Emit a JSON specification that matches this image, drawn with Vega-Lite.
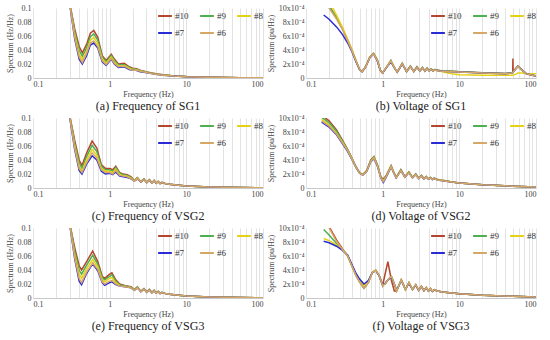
{
"$schema":"https://vega.github.io/schema/vega-lite/v6.json",
"background":"white",
"padding":{"left":5,"top":4,"right":3,"bottom":2},
"datasets":{
"a":[
{"f":0.27,"#10":0.14,"#9":0.138,"#8":0.136,"#7":0.134,"#6":0.135},
{"f":0.31,"#10":0.1,"#9":0.099,"#8":0.098,"#7":0.096,"#6":0.097},
{"f":0.35,"#10":0.07,"#9":0.066,"#8":0.062,"#7":0.056,"#6":0.058},
{"f":0.4,"#10":0.045,"#9":0.04,"#8":0.034,"#7":0.027,"#6":0.03},
{"f":0.44,"#10":0.036,"#9":0.031,"#8":0.026,"#7":0.02,"#6":0.022},
{"f":0.5,"#10":0.048,"#9":0.043,"#8":0.038,"#7":0.032,"#6":0.035},
{"f":0.56,"#10":0.064,"#9":0.059,"#8":0.054,"#7":0.047,"#6":0.05},
{"f":0.62,"#10":0.068,"#9":0.063,"#8":0.058,"#7":0.05,"#6":0.053},
{"f":0.7,"#10":0.058,"#9":0.054,"#8":0.049,"#7":0.043,"#6":0.045},
{"f":0.8,"#10":0.032,"#9":0.03,"#8":0.027,"#7":0.023,"#6":0.025},
{"f":0.9,"#10":0.025,"#9":0.023,"#8":0.021,"#7":0.018,"#6":0.019},
{"f":1.05,"#10":0.034,"#9":0.032,"#8":0.03,"#7":0.027,"#6":0.028},
{"f":1.15,"#10":0.027,"#9":0.025,"#8":0.023,"#7":0.02,"#6":0.021},
{"f":1.3,"#10":0.02,"#9":0.019,"#8":0.017,"#7":0.015,"#6":0.016},
{"f":1.55,"#10":0.021,"#9":0.019,"#8":0.018,"#7":0.016,"#6":0.017},
{"f":1.8,"#10":0.016,"#9":0.015,"#8":0.014,"#7":0.012,"#6":0.013},
{"f":2.0,"#10":0.014,"#9":0.013,"#8":0.012,"#7":0.011,"#6":0.011},
{"f":2.2,"#10":0.0135,"#9":0.013,"#8":0.012,"#7":0.011,"#6":0.0115},
{"f":2.5,"#10":0.011,"#9":0.0105,"#8":0.01,"#7":0.009,"#6":0.0095},
{"f":2.8,"#10":0.0098,"#9":0.0094,"#8":0.009,"#7":0.0083,"#6":0.0086},
{"f":3.2,"#10":0.0082,"#9":0.0079,"#8":0.0076,"#7":0.007,"#6":0.0072},
{"f":4,"#10":0.006,"#9":0.0058,"#8":0.0056,"#7":0.0052,"#6":0.0054},
{"f":5,"#10":0.0045,"#9":0.0044,"#8":0.0042,"#7":0.004,"#6":0.0041},
{"f":7,"#10":0.003,"#9":0.003,"#8":0.0029,"#7":0.0028,"#6":0.0028},
{"f":10,"#10":0.002,"#9":0.002,"#8":0.0019,"#7":0.0018,"#6":0.0018},
{"f":20,"#10":0.001,"#9":0.001,"#8":0.001,"#7":0.001,"#6":0.001},
{"f":50,"#10":0.0004,"#9":0.0004,"#8":0.0004,"#7":0.0004,"#6":0.0004},
{"f":100,"#10":0.0002,"#9":0.0002,"#8":0.0002,"#7":0.0002,"#6":0.0002}
],
"b":[
{"f":0.17,"#10":11.5,"#9":11.5,"#8":12.5,"#7":9.0,"#6":11.0},
{"f":0.2,"#10":10.3,"#9":10.3,"#8":11.0,"#7":8.4,"#6":10.0},
{"f":0.25,"#10":8.6,"#9":8.6,"#8":9.0,"#7":7.3,"#6":8.4},
{"f":0.3,"#10":7.0,"#9":7.0,"#8":7.2,"#7":6.2,"#6":6.9},
{"f":0.35,"#10":5.4,"#9":5.4,"#8":5.5,"#7":5.0,"#6":5.3},
{"f":0.4,"#10":3.9,"#9":3.9,"#8":4.0,"#7":3.7,"#6":3.8},
{"f":0.45,"#10":2.4,"#9":2.4,"#8":2.5,"#7":2.3,"#6":2.4},
{"f":0.5,"#10":1.2,"#9":1.2,"#8":1.2,"#7":1.2,"#6":1.2},
{"f":0.54,"#10":0.9,"#9":0.9,"#8":0.9,"#7":0.9,"#6":0.9},
{"f":0.6,"#10":1.6,"#9":1.6,"#8":1.6,"#7":1.6,"#6":1.6},
{"f":0.68,"#10":3.0,"#9":3.0,"#8":2.95,"#7":2.9,"#6":2.95},
{"f":0.76,"#10":3.5,"#9":3.5,"#8":3.4,"#7":3.4,"#6":3.45},
{"f":0.85,"#10":2.6,"#9":2.6,"#8":2.55,"#7":2.5,"#6":2.55},
{"f":0.93,"#10":1.1,"#9":1.1,"#8":1.1,"#7":1.1,"#6":1.1},
{"f":1.0,"#10":0.7,"#9":0.7,"#8":0.7,"#7":0.7,"#6":0.7},
{"f":1.1,"#10":1.4,"#9":1.4,"#8":1.4,"#7":1.35,"#6":1.4},
{"f":1.28,"#10":2.5,"#9":2.5,"#8":2.4,"#7":2.3,"#6":2.4},
{"f":1.42,"#10":1.5,"#9":1.5,"#8":1.5,"#7":1.45,"#6":1.5},
{"f":1.55,"#10":0.85,"#9":0.85,"#8":0.85,"#7":0.85,"#6":0.85},
{"f":1.8,"#10":2.1,"#9":2.1,"#8":2.05,"#7":2.0,"#6":2.05},
{"f":2.05,"#10":0.9,"#9":0.9,"#8":0.9,"#7":0.9,"#6":0.9},
{"f":2.3,"#10":1.7,"#9":1.7,"#8":1.65,"#7":1.65,"#6":1.65},
{"f":2.55,"#10":0.95,"#9":0.95,"#8":0.95,"#7":0.95,"#6":0.95},
{"f":2.8,"#10":1.6,"#9":1.6,"#8":1.55,"#7":1.55,"#6":1.55},
{"f":3.05,"#10":1.0,"#9":1.0,"#8":1.0,"#7":1.0,"#6":1.0},
{"f":3.3,"#10":1.5,"#9":1.5,"#8":1.45,"#7":1.45,"#6":1.45},
{"f":3.55,"#10":1.0,"#9":1.0,"#8":1.0,"#7":1.0,"#6":1.0},
{"f":3.8,"#10":1.4,"#9":1.4,"#8":1.35,"#7":1.35,"#6":1.35},
{"f":4.05,"#10":1.05,"#9":1.05,"#8":1.0,"#7":1.0,"#6":1.0},
{"f":4.3,"#10":1.3,"#9":1.3,"#8":1.25,"#7":1.25,"#6":1.25},
{"f":4.55,"#10":1.05,"#9":1.05,"#8":1.0,"#7":1.0,"#6":1.0},
{"f":4.8,"#10":1.2,"#9":1.2,"#8":1.15,"#7":1.15,"#6":1.15},
{"f":5.3,"#10":1.1,"#9":1.1,"#8":1.05,"#7":1.05,"#6":1.05},
{"f":6,"#10":1.0,"#9":1.0,"#8":0.9,"#7":0.95,"#6":0.95},
{"f":8,"#10":0.95,"#9":0.95,"#8":0.6,"#7":0.9,"#6":0.9},
{"f":10,"#10":0.9,"#9":0.9,"#8":0.45,"#7":0.85,"#6":0.85},
{"f":20,"#10":0.75,"#9":0.75,"#8":0.4,"#7":0.72,"#6":0.72},
{"f":40,"#10":0.65,"#9":0.65,"#8":0.38,"#7":0.62,"#6":0.62},
{"f":48,"#10":0.75,"#9":0.75,"#8":0.4,"#7":0.72,"#6":0.72},
{"f":49.7,"#10":0.8,"#9":0.8,"#8":0.4,"#7":0.78,"#6":0.78},
{"f":50,"#10":2.8,"#9":0.85,"#8":0.4,"#7":0.8,"#6":0.8},
{"f":50.3,"#10":0.9,"#9":0.9,"#8":0.42,"#7":0.85,"#6":0.85},
{"f":55,"#10":1.4,"#9":1.4,"#8":0.55,"#7":1.35,"#6":1.35},
{"f":58,"#10":1.7,"#9":1.7,"#8":0.7,"#7":1.65,"#6":1.65},
{"f":65,"#10":1.2,"#9":1.2,"#8":0.7,"#7":1.15,"#6":1.15},
{"f":75,"#10":0.6,"#9":0.6,"#8":0.65,"#7":0.6,"#6":0.6},
{"f":100,"#10":0.3,"#9":0.3,"#8":0.6,"#7":0.3,"#6":0.3}
],
"c":[
{"f":0.27,"#10":0.14,"#9":0.138,"#8":0.136,"#7":0.134,"#6":0.135},
{"f":0.306,"#10":0.1,"#9":0.099,"#8":0.098,"#7":0.096,"#6":0.097},
{"f":0.35,"#10":0.068,"#9":0.064,"#8":0.06,"#7":0.055,"#6":0.057},
{"f":0.4,"#10":0.04,"#9":0.036,"#8":0.031,"#7":0.025,"#6":0.028},
{"f":0.435,"#10":0.032,"#9":0.028,"#8":0.024,"#7":0.02,"#6":0.022},
{"f":0.5,"#10":0.05,"#9":0.045,"#8":0.04,"#7":0.034,"#6":0.036},
{"f":0.59,"#10":0.067,"#9":0.061,"#8":0.055,"#7":0.046,"#6":0.05},
{"f":0.68,"#10":0.057,"#9":0.052,"#8":0.047,"#7":0.04,"#6":0.043},
{"f":0.78,"#10":0.033,"#9":0.031,"#8":0.028,"#7":0.024,"#6":0.026},
{"f":0.88,"#10":0.028,"#9":0.026,"#8":0.024,"#7":0.02,"#6":0.022},
{"f":1.0,"#10":0.028,"#9":0.026,"#8":0.024,"#7":0.021,"#6":0.022},
{"f":1.1,"#10":0.026,"#9":0.024,"#8":0.022,"#7":0.019,"#6":0.02},
{"f":1.2,"#10":0.031,"#9":0.029,"#8":0.027,"#7":0.023,"#6":0.025},
{"f":1.35,"#10":0.022,"#9":0.021,"#8":0.019,"#7":0.017,"#6":0.018},
{"f":1.5,"#10":0.02,"#9":0.019,"#8":0.018,"#7":0.016,"#6":0.017},
{"f":1.7,"#10":0.019,"#9":0.018,"#8":0.017,"#7":0.015,"#6":0.016},
{"f":1.9,"#10":0.016,"#9":0.015,"#8":0.014,"#7":0.013,"#6":0.013},
{"f":2.1,"#10":0.011,"#9":0.011,"#8":0.0105,"#7":0.01,"#6":0.01},
{"f":2.3,"#10":0.015,"#9":0.0145,"#8":0.014,"#7":0.013,"#6":0.0135},
{"f":2.55,"#10":0.009,"#9":0.009,"#8":0.0088,"#7":0.0085,"#6":0.0086},
{"f":2.8,"#10":0.013,"#9":0.0127,"#8":0.0124,"#7":0.012,"#6":0.0122},
{"f":3.05,"#10":0.008,"#9":0.008,"#8":0.0078,"#7":0.0076,"#6":0.0077},
{"f":3.3,"#10":0.012,"#9":0.0118,"#8":0.0115,"#7":0.0112,"#6":0.0113},
{"f":3.55,"#10":0.0075,"#9":0.0075,"#8":0.0074,"#7":0.0072,"#6":0.0073},
{"f":3.8,"#10":0.011,"#9":0.0108,"#8":0.0106,"#7":0.0103,"#6":0.0104},
{"f":4.05,"#10":0.007,"#9":0.007,"#8":0.0069,"#7":0.0068,"#6":0.0068},
{"f":4.3,"#10":0.0095,"#9":0.0094,"#8":0.0092,"#7":0.009,"#6":0.0091},
{"f":4.55,"#10":0.0065,"#9":0.0065,"#8":0.0064,"#7":0.0063,"#6":0.0063},
{"f":4.8,"#10":0.008,"#9":0.008,"#8":0.0078,"#7":0.0077,"#6":0.0077},
{"f":5.3,"#10":0.0065,"#9":0.0065,"#8":0.0064,"#7":0.0063,"#6":0.0063},
{"f":6,"#10":0.0055,"#9":0.0055,"#8":0.0054,"#7":0.0053,"#6":0.0053},
{"f":8,"#10":0.004,"#9":0.004,"#8":0.004,"#7":0.0039,"#6":0.0039},
{"f":10,"#10":0.003,"#9":0.003,"#8":0.003,"#7":0.0029,"#6":0.0029},
{"f":20,"#10":0.0015,"#9":0.0015,"#8":0.0015,"#7":0.0015,"#6":0.0015},
{"f":50,"#10":0.0006,"#9":0.0006,"#8":0.0006,"#7":0.0006,"#6":0.0006},
{"f":100,"#10":0.0002,"#9":0.0002,"#8":0.0002,"#7":0.0002,"#6":0.0002}
],
"d":[
{"f":0.16,"#10":10.4,"#9":10.1,"#8":9.8,"#7":9.4,"#6":9.6},
{"f":0.2,"#10":9.6,"#9":9.3,"#8":9.0,"#7":8.7,"#6":8.85},
{"f":0.25,"#10":8.3,"#9":8.1,"#8":7.8,"#7":7.6,"#6":7.7},
{"f":0.3,"#10":6.8,"#9":6.7,"#8":6.5,"#7":6.3,"#6":6.4},
{"f":0.35,"#10":5.5,"#9":5.45,"#8":5.35,"#7":5.2,"#6":5.3},
{"f":0.4,"#10":4.2,"#9":4.15,"#8":4.1,"#7":4.0,"#6":4.05},
{"f":0.45,"#10":3.0,"#9":3.0,"#8":2.95,"#7":2.9,"#6":2.9},
{"f":0.5,"#10":2.2,"#9":2.2,"#8":2.15,"#7":2.1,"#6":2.1},
{"f":0.55,"#10":1.9,"#9":1.9,"#8":1.9,"#7":1.85,"#6":1.85},
{"f":0.62,"#10":2.5,"#9":2.5,"#8":2.45,"#7":2.4,"#6":2.4},
{"f":0.7,"#10":4.0,"#9":3.95,"#8":3.85,"#7":3.75,"#6":3.8},
{"f":0.77,"#10":4.5,"#9":4.45,"#8":4.35,"#7":4.2,"#6":4.3},
{"f":0.85,"#10":3.4,"#9":3.35,"#8":3.3,"#7":3.2,"#6":3.25},
{"f":0.95,"#10":1.5,"#9":1.5,"#8":1.45,"#7":1.4,"#6":1.4},
{"f":1.02,"#10":1.3,"#9":1.1,"#8":1.0,"#7":0.8,"#6":0.9},
{"f":1.1,"#10":1.7,"#9":1.6,"#8":1.55,"#7":1.45,"#6":1.5},
{"f":1.29,"#10":3.2,"#9":3.15,"#8":3.1,"#7":3.0,"#6":3.05},
{"f":1.4,"#10":2.2,"#9":2.2,"#8":2.15,"#7":2.1,"#6":2.1},
{"f":1.5,"#10":1.5,"#9":1.5,"#8":1.5,"#7":1.45,"#6":1.45},
{"f":1.73,"#10":2.6,"#9":2.6,"#8":2.55,"#7":2.5,"#6":2.5},
{"f":1.95,"#10":1.6,"#9":1.6,"#8":1.6,"#7":1.55,"#6":1.55},
{"f":2.2,"#10":2.3,"#9":2.3,"#8":2.25,"#7":2.2,"#6":2.2},
{"f":2.45,"#10":1.5,"#9":1.5,"#8":1.5,"#7":1.45,"#6":1.45},
{"f":2.7,"#10":2.0,"#9":2.0,"#8":1.95,"#7":1.9,"#6":1.9},
{"f":2.95,"#10":1.4,"#9":1.4,"#8":1.4,"#7":1.35,"#6":1.35},
{"f":3.2,"#10":1.8,"#9":1.8,"#8":1.75,"#7":1.7,"#6":1.7},
{"f":3.45,"#10":1.35,"#9":1.35,"#8":1.35,"#7":1.3,"#6":1.3},
{"f":3.7,"#10":1.65,"#9":1.65,"#8":1.6,"#7":1.6,"#6":1.6},
{"f":3.95,"#10":1.3,"#9":1.3,"#8":1.3,"#7":1.25,"#6":1.25},
{"f":4.2,"#10":1.5,"#9":1.5,"#8":1.45,"#7":1.45,"#6":1.45},
{"f":4.45,"#10":1.25,"#9":1.25,"#8":1.25,"#7":1.2,"#6":1.2},
{"f":4.7,"#10":1.4,"#9":1.4,"#8":1.35,"#7":1.35,"#6":1.35},
{"f":5.2,"#10":1.2,"#9":1.2,"#8":1.2,"#7":1.15,"#6":1.15},
{"f":6,"#10":1.1,"#9":1.1,"#8":1.1,"#7":1.05,"#6":1.05},
{"f":8,"#10":0.85,"#9":0.85,"#8":0.85,"#7":0.85,"#6":0.85},
{"f":10,"#10":0.7,"#9":0.7,"#8":0.7,"#7":0.7,"#6":0.7},
{"f":20,"#10":0.45,"#9":0.45,"#8":0.45,"#7":0.45,"#6":0.45},
{"f":50,"#10":0.25,"#9":0.25,"#8":0.25,"#7":0.25,"#6":0.25},
{"f":100,"#10":0.15,"#9":0.15,"#8":0.15,"#7":0.15,"#6":0.15}
],
"e":[
{"f":0.27,"#10":0.14,"#9":0.138,"#8":0.136,"#7":0.134,"#6":0.135},
{"f":0.31,"#10":0.1,"#9":0.099,"#8":0.098,"#7":0.096,"#6":0.097},
{"f":0.35,"#10":0.072,"#9":0.067,"#8":0.062,"#7":0.056,"#6":0.058},
{"f":0.4,"#10":0.046,"#9":0.04,"#8":0.034,"#7":0.024,"#6":0.028},
{"f":0.43,"#10":0.04,"#9":0.034,"#8":0.028,"#7":0.019,"#6":0.022},
{"f":0.5,"#10":0.052,"#9":0.047,"#8":0.042,"#7":0.035,"#6":0.037},
{"f":0.6,"#10":0.067,"#9":0.061,"#8":0.055,"#7":0.049,"#6":0.05},
{"f":0.7,"#10":0.052,"#9":0.048,"#8":0.044,"#7":0.039,"#6":0.041},
{"f":0.8,"#10":0.031,"#9":0.029,"#8":0.026,"#7":0.022,"#6":0.023},
{"f":0.86,"#10":0.028,"#9":0.026,"#8":0.023,"#7":0.018,"#6":0.02},
{"f":1.0,"#10":0.034,"#9":0.031,"#8":0.028,"#7":0.022,"#6":0.024},
{"f":1.07,"#10":0.036,"#9":0.033,"#8":0.029,"#7":0.023,"#6":0.025},
{"f":1.2,"#10":0.026,"#9":0.024,"#8":0.022,"#7":0.019,"#6":0.02},
{"f":1.35,"#10":0.02,"#9":0.019,"#8":0.018,"#7":0.017,"#6":0.017},
{"f":1.6,"#10":0.0175,"#9":0.017,"#8":0.0165,"#7":0.016,"#6":0.016},
{"f":1.9,"#10":0.016,"#9":0.0155,"#8":0.015,"#7":0.0145,"#6":0.0145},
{"f":2.1,"#10":0.012,"#9":0.012,"#8":0.0115,"#7":0.011,"#6":0.011},
{"f":2.3,"#10":0.016,"#9":0.0155,"#8":0.015,"#7":0.0145,"#6":0.0145},
{"f":2.55,"#10":0.0095,"#9":0.0095,"#8":0.0093,"#7":0.009,"#6":0.009},
{"f":2.8,"#10":0.0135,"#9":0.0132,"#8":0.013,"#7":0.0127,"#6":0.0127},
{"f":3.05,"#10":0.0085,"#9":0.0085,"#8":0.0083,"#7":0.0081,"#6":0.0081},
{"f":3.3,"#10":0.0122,"#9":0.012,"#8":0.0118,"#7":0.0115,"#6":0.0115},
{"f":3.55,"#10":0.0078,"#9":0.0078,"#8":0.0077,"#7":0.0075,"#6":0.0075},
{"f":3.8,"#10":0.011,"#9":0.0108,"#8":0.0106,"#7":0.0104,"#6":0.0104},
{"f":4.05,"#10":0.0072,"#9":0.0072,"#8":0.0071,"#7":0.007,"#6":0.007},
{"f":4.3,"#10":0.0095,"#9":0.0094,"#8":0.0093,"#7":0.0091,"#6":0.0091},
{"f":4.55,"#10":0.0066,"#9":0.0066,"#8":0.0065,"#7":0.0064,"#6":0.0064},
{"f":4.8,"#10":0.008,"#9":0.008,"#8":0.0079,"#7":0.0078,"#6":0.0078},
{"f":5.3,"#10":0.0066,"#9":0.0066,"#8":0.0065,"#7":0.0064,"#6":0.0064},
{"f":6,"#10":0.0055,"#9":0.0055,"#8":0.0054,"#7":0.0053,"#6":0.0053},
{"f":8,"#10":0.004,"#9":0.004,"#8":0.004,"#7":0.0039,"#6":0.0039},
{"f":10,"#10":0.003,"#9":0.003,"#8":0.003,"#7":0.0029,"#6":0.0029},
{"f":20,"#10":0.0015,"#9":0.0015,"#8":0.0015,"#7":0.0015,"#6":0.0015},
{"f":50,"#10":0.0006,"#9":0.0006,"#8":0.0006,"#7":0.0006,"#6":0.0006},
{"f":100,"#10":0.0002,"#9":0.0002,"#8":0.0002,"#7":0.0002,"#6":0.0002}
],
"f":[
{"f":0.17,"#10":11.2,"#9":9.8,"#8":8.5,"#7":8.1,"#6":11.0},
{"f":0.2,"#10":10.2,"#9":9.0,"#8":8.2,"#7":7.9,"#6":10.0},
{"f":0.25,"#10":8.3,"#9":7.8,"#8":7.6,"#7":7.4,"#6":8.1},
{"f":0.3,"#10":7.0,"#9":6.9,"#8":6.9,"#7":6.8,"#6":6.9},
{"f":0.35,"#10":6.0,"#9":6.0,"#8":6.1,"#7":6.1,"#6":6.0},
{"f":0.4,"#10":4.5,"#9":4.5,"#8":4.6,"#7":4.7,"#6":4.5},
{"f":0.45,"#10":3.2,"#9":3.2,"#8":3.3,"#7":3.5,"#6":3.2},
{"f":0.5,"#10":2.3,"#9":2.3,"#8":2.5,"#7":2.7,"#6":2.3},
{"f":0.57,"#10":1.4,"#9":1.4,"#8":1.8,"#7":2.0,"#6":1.4},
{"f":0.65,"#10":2.2,"#9":2.2,"#8":2.4,"#7":2.5,"#6":2.2},
{"f":0.73,"#10":3.6,"#9":3.6,"#8":3.6,"#7":3.6,"#6":3.6},
{"f":0.81,"#10":4.0,"#9":4.0,"#8":3.95,"#7":3.9,"#6":4.0},
{"f":0.9,"#10":3.2,"#9":3.2,"#8":3.2,"#7":3.15,"#6":3.2},
{"f":1.0,"#10":1.8,"#9":1.8,"#8":1.85,"#7":1.9,"#6":1.8},
{"f":1.08,"#10":3.5,"#9":2.0,"#8":2.05,"#7":2.1,"#6":2.0},
{"f":1.17,"#10":5.2,"#9":2.6,"#8":2.6,"#7":2.6,"#6":2.6},
{"f":1.3,"#10":2.5,"#9":3.1,"#8":3.05,"#7":3.0,"#6":3.1},
{"f":1.42,"#10":1.0,"#9":2.0,"#8":2.0,"#7":2.0,"#6":2.0},
{"f":1.52,"#10":1.0,"#9":1.0,"#8":1.05,"#7":1.1,"#6":1.0},
{"f":1.75,"#10":2.6,"#9":2.6,"#8":2.55,"#7":2.5,"#6":2.6},
{"f":1.98,"#10":1.2,"#9":1.2,"#8":1.2,"#7":1.25,"#6":1.2},
{"f":2.2,"#10":2.2,"#9":2.2,"#8":2.15,"#7":2.1,"#6":2.2},
{"f":2.45,"#10":1.2,"#9":1.2,"#8":1.2,"#7":1.2,"#6":1.2},
{"f":2.7,"#10":1.9,"#9":1.9,"#8":1.85,"#7":1.85,"#6":1.9},
{"f":2.95,"#10":1.1,"#9":1.1,"#8":1.1,"#7":1.1,"#6":1.1},
{"f":3.2,"#10":1.7,"#9":1.7,"#8":1.65,"#7":1.65,"#6":1.7},
{"f":3.45,"#10":1.05,"#9":1.05,"#8":1.05,"#7":1.05,"#6":1.05},
{"f":3.7,"#10":1.5,"#9":1.5,"#8":1.45,"#7":1.45,"#6":1.5},
{"f":3.95,"#10":1.0,"#9":1.0,"#8":1.0,"#7":1.0,"#6":1.0},
{"f":4.2,"#10":1.35,"#9":1.35,"#8":1.3,"#7":1.3,"#6":1.35},
{"f":4.45,"#10":0.95,"#9":0.95,"#8":0.95,"#7":0.95,"#6":0.95},
{"f":4.7,"#10":1.2,"#9":1.2,"#8":1.15,"#7":1.15,"#6":1.2},
{"f":5.2,"#10":1.0,"#9":1.0,"#8":1.0,"#7":1.0,"#6":1.0},
{"f":6,"#10":0.85,"#9":0.85,"#8":0.85,"#7":0.85,"#6":0.85},
{"f":8,"#10":0.7,"#9":0.7,"#8":0.7,"#7":0.7,"#6":0.7},
{"f":10,"#10":0.6,"#9":0.6,"#8":0.6,"#7":0.6,"#6":0.6},
{"f":20,"#10":0.4,"#9":0.4,"#8":0.4,"#7":0.4,"#6":0.4},
{"f":50,"#10":0.25,"#9":0.25,"#8":0.25,"#7":0.25,"#6":0.25},
{"f":100,"#10":0.15,"#9":0.15,"#8":0.15,"#7":0.15,"#6":0.15}
]
},
"columns":2,
"spacing":{"row":2,"column":4},
"resolve":{"scale":{"color":"independent"},"legend":{"color":"independent"}},
"concat":[
{"width":230,"height":70,"data":{"name":"a"},"transform":[{"fold":["#10","#9","#8","#7","#6"],"as":["s","v"]}],
"title":{"text":"(a) Frequency of SG1"},
"mark":{"type":"line","clip":true,"strokeWidth":1.5},
"encoding":{
"x":{"field":"f","type":"quantitative","scale":{"type":"log","domain":[0.1,100]},"axis":{"title":"Frequency (Hz)","values":[0.1,0.2,0.3,0.4,0.5,0.6,0.7,0.8,0.9,1,2,3,4,5,6,7,8,9,10,20,30,40,50,60,70,80,90,100],"format":"~g","labelExpr":"(datum.value==0.1||datum.value==1||datum.value==10||datum.value==100)?datum.label:''"}},
"y":{"field":"v","type":"quantitative","scale":{"domain":[0,0.1]},"axis":{"title":"Spectrum (Hz/Hz)","values":[0,0.02,0.04,0.06,0.08,0.1],"labelExpr":"datum.value==0?'0':format(datum.value,'.2~f')"}},
"color":{"field":"s","type":"nominal","sort":["#10","#9","#8","#7","#6"],"scale":{"domain":["#10","#9","#8","#7","#6"],"range":["#b5452c","#4caf50","#e6d214","#2b2bd6","#d6a868"]}}}},
{"width":230,"height":70,"data":{"name":"b"},"transform":[{"fold":["#10","#9","#8","#7","#6"],"as":["s","v"]}],
"title":{"text":"(b) Voltage of SG1"},
"mark":{"type":"line","clip":true,"strokeWidth":1.5},
"encoding":{
"x":{"field":"f","type":"quantitative","scale":{"type":"log","domain":[0.1,100]},"axis":{"title":"Frequency (Hz)","values":[0.1,0.2,0.3,0.4,0.5,0.6,0.7,0.8,0.9,1,2,3,4,5,6,7,8,9,10,20,30,40,50,60,70,80,90,100],"format":"~g","labelExpr":"(datum.value==0.1||datum.value==1||datum.value==10||datum.value==100)?datum.label:''"}},
"y":{"field":"v","type":"quantitative","scale":{"domain":[0,10]},"axis":{"title":"Spectrum (pu/Hz)","values":[0,2,4,6,8,10],"labelExpr":"datum.value==0?'0':datum.value+'x10⁻⁴'"}},
"color":{"field":"s","type":"nominal","sort":["#10","#9","#8","#7","#6"],"scale":{"domain":["#10","#9","#8","#7","#6"],"range":["#b5452c","#4caf50","#e6d214","#2b2bd6","#d6a868"]}}}},
{"width":230,"height":70,"data":{"name":"c"},"transform":[{"fold":["#10","#9","#8","#7","#6"],"as":["s","v"]}],
"title":{"text":"(c) Frequency of VSG2"},
"mark":{"type":"line","clip":true,"strokeWidth":1.5},
"encoding":{
"x":{"field":"f","type":"quantitative","scale":{"type":"log","domain":[0.1,100]},"axis":{"title":"Frequency (Hz)","values":[0.1,0.2,0.3,0.4,0.5,0.6,0.7,0.8,0.9,1,2,3,4,5,6,7,8,9,10,20,30,40,50,60,70,80,90,100],"format":"~g","labelExpr":"(datum.value==0.1||datum.value==1||datum.value==10||datum.value==100)?datum.label:''"}},
"y":{"field":"v","type":"quantitative","scale":{"domain":[0,0.1]},"axis":{"title":"Spectrum (Hz/Hz)","values":[0,0.02,0.04,0.06,0.08,0.1],"labelExpr":"datum.value==0?'0':format(datum.value,'.2~f')"}},
"color":{"field":"s","type":"nominal","sort":["#10","#9","#8","#7","#6"],"scale":{"domain":["#10","#9","#8","#7","#6"],"range":["#b5452c","#4caf50","#e6d214","#2b2bd6","#d6a868"]}}}},
{"width":230,"height":70,"data":{"name":"d"},"transform":[{"fold":["#10","#9","#8","#7","#6"],"as":["s","v"]}],
"title":{"text":"(d) Voltage of VSG2"},
"mark":{"type":"line","clip":true,"strokeWidth":1.5},
"encoding":{
"x":{"field":"f","type":"quantitative","scale":{"type":"log","domain":[0.1,100]},"axis":{"title":"Frequency (Hz)","values":[0.1,0.2,0.3,0.4,0.5,0.6,0.7,0.8,0.9,1,2,3,4,5,6,7,8,9,10,20,30,40,50,60,70,80,90,100],"format":"~g","labelExpr":"(datum.value==0.1||datum.value==1||datum.value==10||datum.value==100)?datum.label:''"}},
"y":{"field":"v","type":"quantitative","scale":{"domain":[0,10]},"axis":{"title":"Spectrum (pu/Hz)","values":[0,2,4,6,8,10],"labelExpr":"datum.value==0?'0':datum.value+'x10⁻⁴'"}},
"color":{"field":"s","type":"nominal","sort":["#10","#9","#8","#7","#6"],"scale":{"domain":["#10","#9","#8","#7","#6"],"range":["#b5452c","#4caf50","#e6d214","#2b2bd6","#d6a868"]}}}},
{"width":230,"height":70,"data":{"name":"e"},"transform":[{"fold":["#10","#9","#8","#7","#6"],"as":["s","v"]}],
"title":{"text":"(e) Frequency of VSG3"},
"mark":{"type":"line","clip":true,"strokeWidth":1.5},
"encoding":{
"x":{"field":"f","type":"quantitative","scale":{"type":"log","domain":[0.1,100]},"axis":{"title":"Frequency (Hz)","values":[0.1,0.2,0.3,0.4,0.5,0.6,0.7,0.8,0.9,1,2,3,4,5,6,7,8,9,10,20,30,40,50,60,70,80,90,100],"format":"~g","labelExpr":"(datum.value==0.1||datum.value==1||datum.value==10||datum.value==100)?datum.label:''"}},
"y":{"field":"v","type":"quantitative","scale":{"domain":[0,0.1]},"axis":{"title":"Spectrum (Hz/Hz)","values":[0,0.02,0.04,0.06,0.08,0.1],"labelExpr":"datum.value==0?'0':format(datum.value,'.2~f')"}},
"color":{"field":"s","type":"nominal","sort":["#10","#9","#8","#7","#6"],"scale":{"domain":["#10","#9","#8","#7","#6"],"range":["#b5452c","#4caf50","#e6d214","#2b2bd6","#d6a868"]}}}},
{"width":230,"height":70,"data":{"name":"f"},"transform":[{"fold":["#10","#9","#8","#7","#6"],"as":["s","v"]}],
"title":{"text":"(f) Voltage of VSG3"},
"mark":{"type":"line","clip":true,"strokeWidth":1.5},
"encoding":{
"x":{"field":"f","type":"quantitative","scale":{"type":"log","domain":[0.1,100]},"axis":{"title":"Frequency (Hz)","values":[0.1,0.2,0.3,0.4,0.5,0.6,0.7,0.8,0.9,1,2,3,4,5,6,7,8,9,10,20,30,40,50,60,70,80,90,100],"format":"~g","labelExpr":"(datum.value==0.1||datum.value==1||datum.value==10||datum.value==100)?datum.label:''"}},
"y":{"field":"v","type":"quantitative","scale":{"domain":[0,10]},"axis":{"title":"Spectrum (pu/Hz)","values":[0,2,4,6,8,10],"labelExpr":"datum.value==0?'0':datum.value+'x10⁻⁴'"}},
"color":{"field":"s","type":"nominal","sort":["#10","#9","#8","#7","#6"],"scale":{"domain":["#10","#9","#8","#7","#6"],"range":["#b5452c","#4caf50","#e6d214","#2b2bd6","#d6a868"]}}}}
],
"config":{
"view":{"stroke":null},
"font":"Liberation Serif",
"axis":{"labelFont":"Liberation Serif","titleFont":"Liberation Serif","labelFontSize":8,"titleFontSize":8,"titleFontWeight":"normal","labelColor":"#444","titleColor":"#444","ticks":false,"domain":false,"labelPadding":2,"titlePadding":3,"labelOverlap":false},
"axisX":{"grid":true,"gridColor":"#dcdcdc","gridWidth":0.8,"domain":true,"domainColor":"#c8c8c8","titlePadding":2},
"axisY":{"grid":false},
"legend":{"orient":"top-right","direction":"horizontal","columns":3,"title":null,"symbolType":"stroke","symbolStrokeWidth":2,"symbolSize":190,"labelFont":"Liberation Serif","labelFontSize":9,"labelColor":"#333","labelOffset":2,"columnPadding":7,"rowPadding":4,"offset":0,"padding":0},
"title":{"orient":"bottom","font":"Liberation Serif","fontSize":12,"fontWeight":"normal","color":"#222","offset":3}
}
}
